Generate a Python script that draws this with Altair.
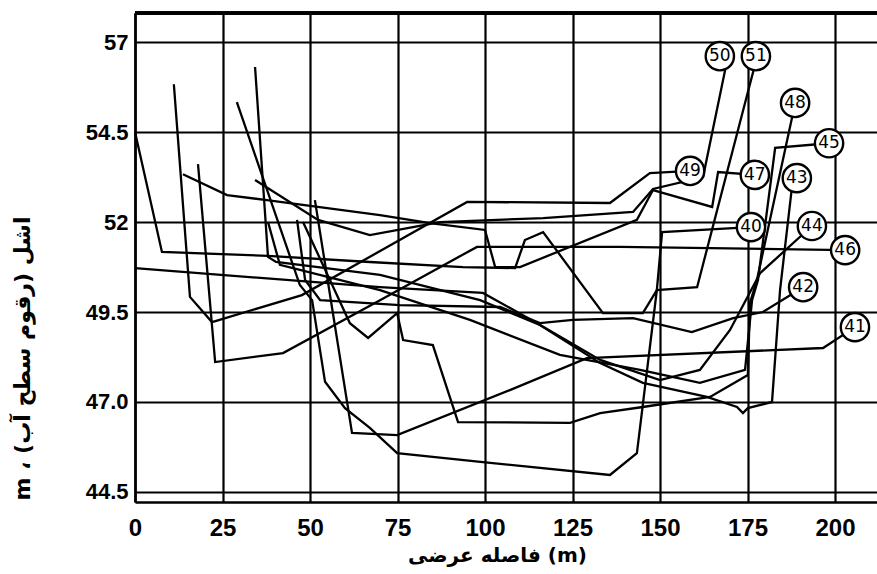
import altair as alt
import pandas as pd

# Cross-section profiles: distance across the channel (m) and water-surface / bed level (m)
S40_X = [0, 7.7, 38.0, 67.1, 93.7, 108.6, 111.4, 116.6, 133.7, 145.1, 149.1, 150.6, 176.0]
S40_Y = [54.5, 51.17, 51.06, 50.89, 50.75, 50.72, 51.5, 51.72, 49.47, 49.47, 50.11, 51.72, 51.86]

S41_X = [51.4, 62.0, 74.9, 107.1, 129.1, 196.6, 205.7]
S41_Y = [52.61, 46.14, 46.08, 47.33, 48.22, 48.5, 49.08]

S42_X = [46.3, 48.6, 52.9, 75.7, 104.3, 115.7, 125.1, 142.3, 159.1, 170.9, 179.4, 190.9]
S42_Y = [52.06, 50.39, 49.83, 49.69, 49.64, 49.19, 49.28, 49.33, 48.94, 49.33, 49.5, 50.19]

S43_X = [34.3, 38.0, 40.3, 70.0, 98.6, 115.7, 132.9, 145.1, 163.4, 172.0, 173.7, 175.1, 182.0, 184.3, 187.7, 189.1]
S43_Y = [56.31, 51.03, 50.89, 50.53, 49.83, 49.14, 48.08, 47.53, 47.14, 46.86, 46.69, 46.83, 47.0, 50.11, 52.97, 53.22]

S44_X = [0, 70.0, 99.4, 114.9, 132.9, 150.0, 161.4, 170.0, 178.6, 193.4]
S44_Y = [50.72, 50.19, 50.03, 49.19, 48.17, 47.61, 47.89, 49.0, 50.58, 51.89]

S45_X = [38.0, 41.4, 70.0, 95.7, 121.4, 144.3, 161.4, 174.3, 176.3, 178.0, 182.9, 198.3]
S45_Y = [52.0, 50.81, 50.11, 49.28, 48.31, 47.89, 47.53, 47.89, 49.83, 50.39, 54.06, 54.19]

S46_X = [18.0, 22.9, 42.3, 70.0, 97.7, 138.6, 202.9]
S46_Y = [53.61, 48.11, 48.36, 49.83, 51.31, 51.31, 51.22]

S47_X = [13.7, 26.3, 37.7, 70.0, 84.3, 100.0, 102.9, 110.0, 143.4, 148.0, 164.9, 166.6, 177.1]
S47_Y = [53.33, 52.75, 52.61, 52.19, 51.97, 51.78, 50.75, 50.75, 52.06, 52.89, 52.42, 53.39, 53.31]

S48_X = [48.0, 55.7, 61.4, 66.6, 74.9, 76.6, 85.1, 92.3, 124.3, 132.9, 145.1, 164.3, 175.1, 175.7, 177.7, 187.7, 188.6]
S48_Y = [52.0, 50.39, 49.19, 48.78, 49.47, 48.72, 48.58, 46.44, 46.42, 46.69, 46.86, 47.14, 47.75, 49.75, 50.39, 54.89, 55.31]

S49_X = [11.1, 15.7, 22.0, 47.7, 94.9, 135.7, 147.1, 158.6]
S49_Y = [55.83, 49.92, 49.22, 49.97, 52.56, 52.53, 53.36, 53.42]

S50_X = [34.3, 52.3, 67.1, 87.1, 116.6, 142.3, 148.0, 162.3, 168.6, 167.1]
S50_Y = [53.17, 52.06, 51.64, 52.0, 52.11, 52.28, 52.92, 53.25, 56.22, 56.61]

S51_X = [29.1, 47.1, 50.6, 54.3, 60.0, 67.1, 74.9, 99.4, 135.7, 143.4, 149.1, 160.6, 176.6, 177.4]
S51_Y = [55.33, 50.25, 49.83, 47.56, 46.83, 46.28, 45.58, 45.33, 44.97, 45.58, 50.11, 50.19, 56.17, 56.61]

# Section number tags (circled labels)
LABEL_IDS = ["50", "51", "48", "45", "49", "47", "43", "40", "44", "46", "42", "41"]
LABEL_X = [167.1, 177.4, 188.6, 198.3, 158.6, 177.1, 189.1, 176.0, 193.4, 202.9, 190.9, 205.7]
LABEL_Y = [56.61, 56.61, 55.31, 54.19, 53.42, 53.31, 53.22, 51.86, 51.89, 51.22, 50.19, 49.08]

X_TICKS = [0, 25, 50, 75, 100, 125, 150, 175, 200]
Y_TICKS = [44.5, 47.0, 49.5, 52.0, 54.5, 57.0]

profiles = [
    ("40", S40_X, S40_Y), ("41", S41_X, S41_Y), ("42", S42_X, S42_Y),
    ("43", S43_X, S43_Y), ("44", S44_X, S44_Y), ("45", S45_X, S45_Y),
    ("46", S46_X, S46_Y), ("47", S47_X, S47_Y), ("48", S48_X, S48_Y),
    ("49", S49_X, S49_Y), ("50", S50_X, S50_Y), ("51", S51_X, S51_Y),
]
rows = []
for sec, xs, ys in profiles:
    for i, (xv, yv) in enumerate(zip(xs, ys)):
        rows.append({"sec": sec, "i": i, "x": xv, "y": yv})
lines_df = pd.DataFrame(rows)
labels_df = pd.DataFrame({"lab": LABEL_IDS, "x": LABEL_X, "y": LABEL_Y})

W, H = 742, 489
x_scale = alt.Scale(domain=[0, 212], nice=False, zero=False)
y_scale = alt.Scale(domain=[44.22, 57.81], nice=False, zero=False)

x_axis = alt.Axis(
    values=X_TICKS, grid=True, gridColor="black", gridWidth=2.2, gridOpacity=1,
    domainColor="black", domainWidth=2.6, tickSize=0, labelPadding=14,
    labelFont="Liberation Sans", labelFontWeight="bold", labelFontSize=24,
    labelColor="black", labelFlush=False, labelOverlap=False,
    title="فاصله عرضی (m)", titleFont="DejaVu Sans", titleFontSize=20,
    titleFontWeight="bold", titleColor="black", titleX=362, titleY=53,
    titleAlign="center", titleBaseline="middle",
)
y_axis = alt.Axis(
    values=Y_TICKS, grid=True, gridColor="black", gridWidth=2.2, gridOpacity=1,
    domainColor="black", domainWidth=2.6, tickSize=0, labelPadding=7,
    labelFont="Liberation Sans", labelFontWeight="bold", labelFontSize=22,
    labelColor="black", labelFlush=False, labelOverlap=False,
    labelExpr="datum.value == 47 ? '47.0' : toString(datum.value)",
    title="m ، اشل (رقوم سطح آب)", titleFont="DejaVu Sans", titleFontSize=22,
    titleFontWeight="bold", titleColor="black", titleAngle=270,
    titleX=-113, titleY=345, titleAlign="center", titleBaseline="middle",
)

lines = alt.Chart(lines_df).mark_line(color="black", strokeWidth=2.3).encode(
    x=alt.X("x:Q", scale=x_scale, axis=x_axis),
    y=alt.Y("y:Q", scale=y_scale, axis=y_axis),
    detail="sec:N",
    order="i:Q",
)

circles = alt.Chart(labels_df).mark_point(
    shape="circle", size=800, filled=True, fill="white",
    stroke="black", strokeWidth=2.4, opacity=1,
).encode(x=alt.X("x:Q", scale=x_scale), y=alt.Y("y:Q", scale=y_scale))

tags = alt.Chart(labels_df).mark_text(
    font="DejaVu Sans", fontSize=17, color="black", baseline="middle", align="center",
).encode(x=alt.X("x:Q", scale=x_scale), y=alt.Y("y:Q", scale=y_scale), text="lab:N")

top_frame = alt.Chart(labels_df).mark_rule(color="black", strokeWidth=2.6).encode(
    x=alt.value(0), x2=alt.value(W), y=alt.value(0)
)

chart = alt.layer(lines, top_frame, circles, tags).properties(
    width=W, height=H,
    padding={"left": 135, "top": 13, "right": 0, "bottom": 72},
    autosize="none",
    background="white",
).configure_view(stroke=None)

chart.save("out.html", embed_options={"renderer": "svg", "actions": False})
